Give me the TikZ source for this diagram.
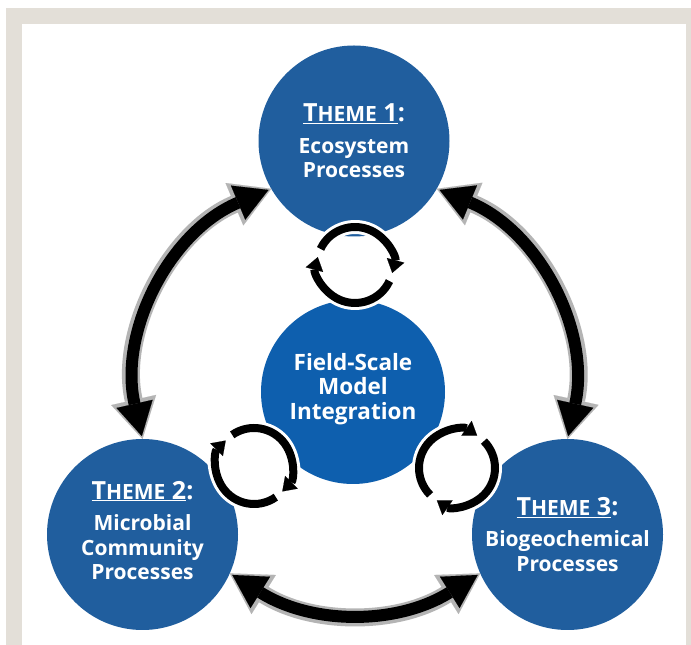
\documentclass[tikz,border=0pt]{standalone}
\usepackage{fontspec}
\setmainfont{Open Sans}
\usetikzlibrary{arrows.meta,positioning}

\definecolor{themeblue}{RGB}{32,94,158}
\definecolor{coreblue}{RGB}{14,95,174}
\definecolor{framebeige}{RGB}{227,223,216}
\definecolor{halogray}{RGB}{180,180,180}

\newcommand{\themetitle}[1]{{\fontsize{25}{25}\selectfont\underline{T{\fontsize{21}{21}\selectfont HEME} #1}:}}

\begin{document}
\begin{tikzpicture}[x=1pt,y=1pt,
  theme/.style={circle,fill=themeblue,minimum size=191pt,inner sep=0pt,outer sep=0pt},
  core/.style={theme,fill=coreblue,minimum size=184pt},
  circtext/.style={text=white,font=\bfseries\fontsize{21}{24.5}\selectfont,align=center},
  linkhalo/.style={draw=halogray,line width=18pt,
    {Triangle[length=40pt,width=46pt,line width=0.1pt]}-{Triangle[length=40pt,width=46pt,line width=0.1pt]}},
  linkcore/.style={draw=black,line width=12pt,shorten <=3pt,shorten >=3pt,
    {Triangle[length=33pt,width=37pt,line width=0.1pt]}-{Triangle[length=33pt,width=37pt,line width=0.1pt]}},
  ringhalo/.style={draw=white,line width=14pt,-{Triangle[length=17pt,width=25pt,line width=0.1pt]}},
  ringcore/.style={draw=black,line width=8pt,shorten >=2pt,-{Triangle[length=13pt,width=18pt,line width=0.1pt]}}]

\useasboundingbox (0,0) rectangle (691,645);
% frame
\fill[white] (0,0) rectangle (691,645);
\fill[framebeige] (6,0) rectangle (691,637);
\fill[white] (22,0) rectangle (686,621);

% circles
\node[theme] (c1) at (354,504) {};
\node[theme] (c2) at (142.5,110.5) {};
\node[theme] (c3) at (567.5,110.5) {};
\node[core] (mid) at (353,253) {};

\node[circtext] (t1) at (c1) {\themetitle{1}\\[7pt]Ecosystem\\Processes};
\node[circtext] (t2) at ([yshift=4pt]c2) {\themetitle{2}\\[7pt]Microbial\\Community\\Processes};
\node[circtext] (t3) at (c3) {\themetitle{3}\\[7pt]Biogeochemical\\Processes};
\node[circtext,font=\bfseries\fontsize{22.5}{24.5}\selectfont] (tm) at ([yshift=3pt]mid) {Field-Scale\\Model\\Integration};

% cycle icons
\coordinate (cyc1) at (355,380);
\coordinate (cyc2) at (254,179);
\coordinate (cyc3) at (457,177);

\foreach \c/\h in {cyc1/-15,cyc2/-45,cyc3/-125} {
  \draw[ringhalo] ([shift={(\h+170:38)}]\c) arc[start angle=\h+170,delta angle=-170,radius=38];
  \draw[ringhalo] ([shift={(\h-10:38)}]\c) arc[start angle=\h-10,delta angle=-170,radius=38];
}
\foreach \c/\h in {cyc1/-15,cyc2/-45,cyc3/-125} {
  \draw[ringcore] ([shift={(\h+170:38)}]\c) arc[start angle=\h+170,delta angle=-170,radius=38];
  \draw[ringcore] ([shift={(\h-10:38)}]\c) arc[start angle=\h-10,delta angle=-170,radius=38];
}

% links between themes
\foreach \a/\b/\bend in {c2.north/c1.210/40, c1.330/c3.north/40, c3.204/c2.336/32} {
  \draw[linkhalo] (\a) to[bend left=\bend] (\b);
  \draw[linkcore] (\a) to[bend left=\bend] (\b);
}
\end{tikzpicture}
\end{document}
